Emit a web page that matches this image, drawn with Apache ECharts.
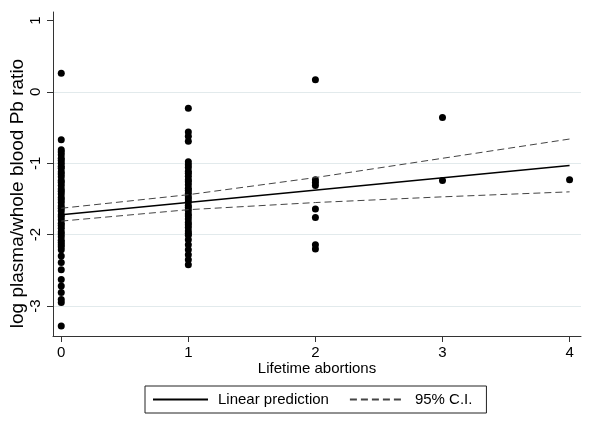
<!DOCTYPE html>
<html>
<head>
<meta charset="utf-8">
<script src="https://cdn.jsdelivr.net/npm/echarts@6/dist/echarts.min.js"></script>
<style>
html,body{margin:0;padding:0;background:#fff;}
#chart{width:600px;height:429px;}
</style>
</head>
<body>
<div id="chart"></div>
<script>
// ---- data ----
var abort0 = [0.26, -0.67, -0.81, -0.84, -0.88, -0.93, -0.96, -1.00, -1.04, -1.07, -1.12, -1.15, -1.19, -1.24, -1.27, -1.31, -1.36, -1.39, -1.43, -1.48, -1.51, -1.55, -1.60, -1.63, -1.67, -1.72, -1.75, -1.79, -1.84, -1.87, -1.91, -1.96, -1.99, -2.03, -2.08, -2.11, -2.14, -2.17, -2.21, -2.30, -2.39, -2.49, -2.63, -2.72, -2.81, -2.91, -2.95, -3.28];
var abort1 = [-0.23, -0.56, -0.62, -0.69, -0.98, -1.02, -1.06, -1.11, -1.14, -1.18, -1.23, -1.26, -1.30, -1.35, -1.38, -1.42, -1.47, -1.50, -1.54, -1.59, -1.62, -1.66, -1.71, -1.74, -1.78, -1.83, -1.86, -1.90, -1.95, -1.98, -2.01, -2.07, -2.14, -2.21, -2.28, -2.35, -2.42];
var abort2 = [0.17, -1.23, -1.27, -1.31, -1.64, -1.76, -2.14, -2.20];
var abort3 = [-0.36, -1.24];
var abort4 = [-1.23];

var fitX = [0, 4];
var fitY = [-1.72, -1.03];
var ciX = [0, 1, 2, 3, 4];
var ciUpper = [-1.63, -1.44, -1.20, -0.93, -0.66];
var ciLower = [-1.81, -1.65, -1.55, -1.47, -1.40];

var xTicks = [0, 1, 2, 3, 4];
var yTicks = [1, 0, -1, -2, -3];
var yGrid = [0, -1, -2, -3];

var xTitle = 'Lifetime abortions';
var yTitle = 'log plasma/whole blood Pb ratio';
var legendFit = 'Linear prediction';
var legendCI = '95% C.I.';

// ---- build ----
var groups = [abort0, abort1, abort2, abort3, abort4];
var scatterData = [];
groups.forEach(function (vals, i) {
  vals.forEach(function (v) { scatterData.push([i, v]); });
});
function pairs(xs, ys) { return xs.map(function (x, i) { return [x, ys[i]]; }); }

var FONT = '"Liberation Sans", Arial, Helvetica, sans-serif';
var chart = echarts.init(document.getElementById('chart'), null, {renderer: 'canvas'});
chart.setOption({
  animation: false,
  backgroundColor: '#ffffff',
  textStyle: {fontFamily: FONT, color: '#000'},
  grid: {left: 53, right: 19, top: 12, bottom: 93, containLabel: false, outerBoundsMode: 'none'},
  xAxis: {
    type: 'value', min: -0.065, max: 4.09,
    name: xTitle, nameLocation: 'middle', nameGap: 25, nameMoveOverlap: false,
    nameTextStyle: {fontSize: 15, color: '#000', fontFamily: FONT},
    axisLine: {show: true, onZero: false, lineStyle: {color: '#333', width: 1}},
    axisTick: {show: true, length: 6, customValues: xTicks, lineStyle: {color: '#333'}},
    axisLabel: {show: true, customValues: xTicks, margin: 9, fontSize: 15, color: '#000', fontFamily: FONT},
    splitLine: {show: false}
  },
  yAxis: {
    type: 'value', min: -3.42, max: 1.12,
    name: yTitle, nameLocation: 'middle', nameGap: 26, nameRotate: 90, nameMoveOverlap: false,
    nameTextStyle: {fontSize: 19, color: '#000', fontFamily: FONT, padding: [0, 39, 0, 0]},
    axisLine: {show: true, onZero: false, lineStyle: {color: '#333', width: 1}},
    axisTick: {show: true, length: 6, customValues: yTicks, lineStyle: {color: '#333'}},
    axisLabel: {show: true, customValues: yTicks, rotate: 90, margin: 10, fontSize: 15, color: '#000', fontFamily: FONT},
    splitLine: {show: false}
  },
  legend: {
    data: [legendFit, legendCI],
    left: 145, top: 386,
    orient: 'horizontal',
    itemWidth: 55, itemHeight: 14, itemGap: 20,
    padding: [6, 14, 6, 7],
    borderColor: '#222', borderWidth: 1,
    itemStyle: {opacity: 0},
    textStyle: {fontSize: 15, color: '#000', fontFamily: FONT, padding: [0, 0, 0, 5]},
    selectedMode: false
  },
  series: [
    {
      name: 'grid', type: 'line', data: [], silent: true, z: 0,
      markLine: {
        silent: true, symbol: ['none', 'none'], z: 0,
        label: {show: false},
        lineStyle: {color: '#e2eaec', type: 'solid', width: 1},
        data: yGrid.map(function (v) { return {yAxis: v}; })
      }
    },
    {
      name: 'Observed', type: 'scatter', data: scatterData,
      symbol: 'circle', symbolSize: 7,
      itemStyle: {color: '#000', opacity: 1}, z: 3
    },
    {
      name: legendFit, type: 'line', data: pairs(fitX, fitY),
      symbol: 'none', showSymbol: false,
      lineStyle: {color: '#000', width: 1.6, type: 'solid'},
      itemStyle: {color: '#000'}, z: 4
    },
    {
      name: legendCI, type: 'line', data: pairs(ciX, ciUpper),
      symbol: 'none', showSymbol: false,
      lineStyle: {color: '#444', width: 1, type: [7, 4]},
      itemStyle: {color: '#444'}, z: 4
    },
    {
      name: legendCI, type: 'line', data: pairs(ciX, ciLower),
      symbol: 'none', showSymbol: false,
      lineStyle: {color: '#444', width: 1, type: [7, 4]},
      itemStyle: {color: '#444'}, z: 4
    }
  ]
});
</script>
</body>
</html>
